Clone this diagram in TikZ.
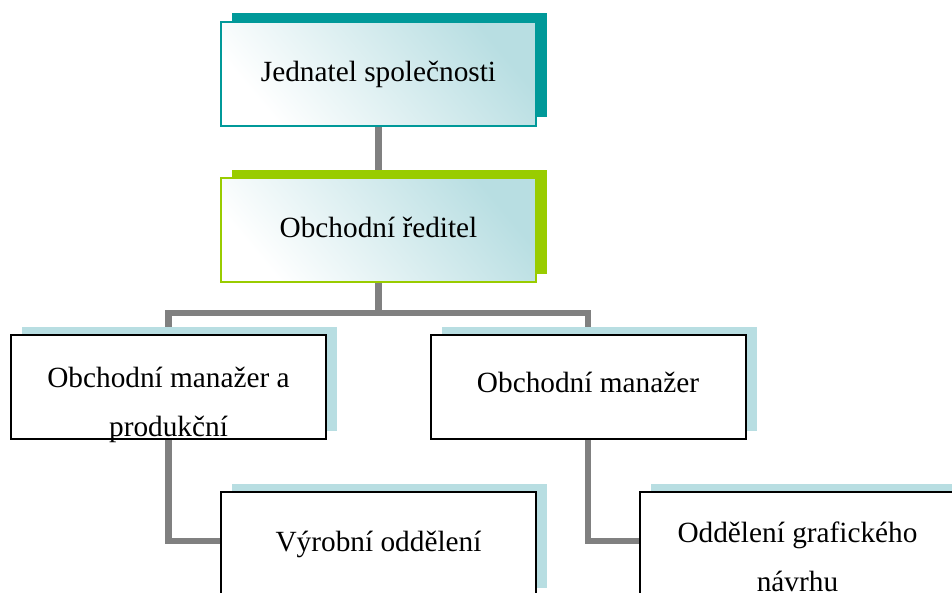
\documentclass[tikz,border=0pt]{standalone}
\usepackage{fontspec}
\setmainfont{Liberation Serif}
\usetikzlibrary{shadows,backgrounds}
\definecolor{tealc}{HTML}{009999}
\definecolor{greenc}{HTML}{99CC00}
\definecolor{lblue}{HTML}{B8DEE2}
\definecolor{connc}{HTML}{808080}
\newcommand\btxt[2][0pt]{\smash{\raisebox{#1}{\begin{tabular}[t]{@{}c@{}}#2\end{tabular}}}}
\begin{document}
\begin{tikzpicture}[x=1pt,y=-1pt,
  font=\fontsize{29.3}{49}\selectfont,
  orgbox/.style={rectangle, minimum width=315pt, minimum height=104pt,
    inner sep=0pt, outer sep=0pt, line width=2pt},
  gradbox/.style={orgbox, top color=lblue, bottom color=white, shading angle=-50},
  plainbox/.style={orgbox, draw=black, fill=white,
    general shadow={fill=lblue, shadow xshift=11pt, shadow yshift=8pt}},
  conn/.style={draw=connc, line width=6.5pt}]
\useasboundingbox (0,0) rectangle (952,592);
\clip (0,0) rectangle (952,592);
\node[gradbox, draw=tealc,
  general shadow={fill=tealc, shadow xshift=11pt, shadow yshift=9pt}]
  (ceo) at (378.5,74) {\btxt[-7pt]{Jednatel společnosti}};
\node[gradbox, draw=greenc,
  general shadow={fill=greenc, shadow xshift=11pt, shadow yshift=8pt}]
  (dir) at (378.5,230) {\btxt[-7pt]{Obchodní ředitel}};
\node[plainbox] (mgl) at (168.5,387) {\btxt[0pt]{Obchodní manažer a\\produkční}};
\node[plainbox] (mgr) at (588,386.5) {\btxt[-6pt]{Obchodní manažer}};
\node[plainbox] (vyr) at (378.5,544) {\btxt[-7pt]{Výrobní oddělení}};
\node[plainbox] (gra) at (797.5,544) {\btxt[2pt]{Oddělení grafického\\návrhu}};
\begin{scope}[on background layer]
  \draw[conn] (ceo.south) -- (dir.north);
  \draw[conn] (dir.south) -- ++(0,31) coordinate (hsplit);
  \draw[conn] (mgl.north) |- (hsplit) -| (mgr.north);
  \draw[conn] (mgl.south) |- ([yshift=3pt]vyr.west);
  \draw[conn] (mgr.south) |- ([yshift=3pt]gra.west);
\end{scope}
\end{tikzpicture}
\end{document}
